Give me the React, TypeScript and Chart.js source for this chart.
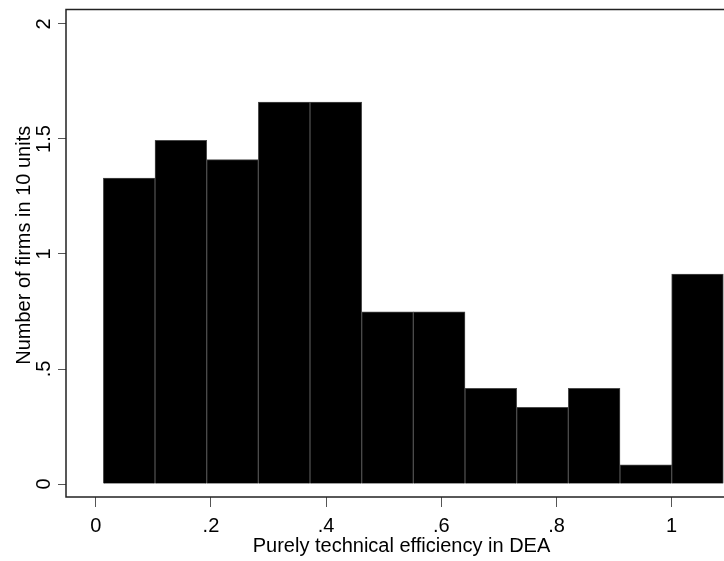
import React, { useEffect, useRef } from 'react';
import { Chart, registerables } from 'chart.js';

Chart.register(...registerables);

// Histogram bins (bin centres on the efficiency scale) and bar heights
const binCenters = [0.0581, 0.1478, 0.2375, 0.3272, 0.4169, 0.5066, 0.5963, 0.686, 0.7757, 0.8654, 0.9551, 1.0448];
const binHeights = [1.33, 1.494, 1.41, 1.66, 1.66, 0.749, 0.749, 0.416, 0.333, 0.416, 0.083, 0.913];
const xTicks = [0, 0.2, 0.4, 0.6, 0.8, 1];
const yTicks = [0, 0.5, 1, 1.5, 2];
const xTitle = 'Purely technical efficiency in DEA';
const yTitle = 'Number of firms in 10 units';

const FONT = '20px "Liberation Sans", Arial, sans-serif';

const fmt = (v: number) => {
  if (v === 0) return '0';
  const s = (Math.round(v * 10) / 10).toString();
  return s.replace(/^0\./, '.');
};

const framePlugin = {
  id: 'stataFrame',
  afterDraw(chart: any) {
    const { ctx, chartArea } = chart;
    const xs = chart.scales.x;
    const ys = chart.scales.y;
    ctx.save();
    // plot frame
    ctx.strokeStyle = '#222';
    ctx.lineWidth = 1.5;
    ctx.strokeRect(chartArea.left, chartArea.top, chartArea.right - chartArea.left, chartArea.bottom - chartArea.top);
    ctx.fillStyle = '#000';
    ctx.font = FONT;
    // x tick labels
    ctx.textAlign = 'center';
    ctx.textBaseline = 'alphabetic';
    xTicks.forEach((v) => {
      ctx.fillText(fmt(v), xs.getPixelForValue(v), 532);
    });
    // y tick labels (rotated)
    yTicks.forEach((v) => {
      ctx.save();
      ctx.translate(49.5, ys.getPixelForValue(v));
      ctx.rotate(-Math.PI / 2);
      ctx.textAlign = 'center';
      ctx.fillText(fmt(v), 0, 0);
      ctx.restore();
    });
    // x title
    ctx.fillText(xTitle, (chartArea.left + chartArea.right) / 2, 552);
    // y title
    ctx.save();
    ctx.translate(29.5, (chartArea.top + chartArea.bottom) / 2 - 8);
    ctx.rotate(-Math.PI / 2);
    ctx.textAlign = 'center';
    ctx.fillText(yTitle, 0, 0);
    ctx.restore();
    ctx.restore();
  },
};

export default function App() {
  const ref = useRef<HTMLCanvasElement | null>(null);
  useEffect(() => {
    document.body.style.margin = '0';
    const canvas = ref.current;
    if (!canvas) return;
    const chart = new Chart(canvas, {
      type: 'bar',
      data: {
        datasets: [
          {
            data: binCenters.map((x, i) => ({ x, y: binHeights[i] })),
            backgroundColor: '#000',
            borderColor: '#4a4a4a',
            borderWidth: 1,
            barPercentage: 1,
            categoryPercentage: 1,
          },
        ],
      },
      options: {
        responsive: false,
        animation: false,
        layout: { padding: { left: 66, top: 9.5, right: 3, bottom: 64 } },
        plugins: { legend: { display: false }, tooltip: { enabled: false }, title: { display: false } },
        scales: {
          x: {
            type: 'linear',
            offset: false,
            min: -0.0516,
            max: 1.1134,
            afterBuildTicks: (s: any) => {
              s.ticks = xTicks.map((v) => ({ value: v }));
            },
            afterFit: (s: any) => {
              s.height = 0;
            },
            ticks: { display: false },
            grid: { display: true, offset: false, drawOnChartArea: false, drawTicks: true, tickLength: 10, color: '#555', lineWidth: 1 },
            border: { display: false },
          },
          y: {
            type: 'linear',
            min: -0.0565,
            max: 2.063,
            afterBuildTicks: (s: any) => {
              s.ticks = yTicks.map((v) => ({ value: v }));
            },
            afterFit: (s: any) => {
              s.width = 0;
            },
            ticks: { display: false },
            grid: { display: true, drawOnChartArea: false, drawTicks: true, tickLength: 8, color: '#555', lineWidth: 1 },
            border: { display: false },
          },
        },
      },
      plugins: [framePlugin],
    } as any);
    return () => chart.destroy();
  }, []);
  return (
    <div style={{ width: 724, height: 561, overflow: 'hidden', position: 'relative', background: '#fff' }}>
      <canvas ref={ref} width={740} height={561} style={{ display: 'block', width: 740, height: 561 }} />
    </div>
  );
}
